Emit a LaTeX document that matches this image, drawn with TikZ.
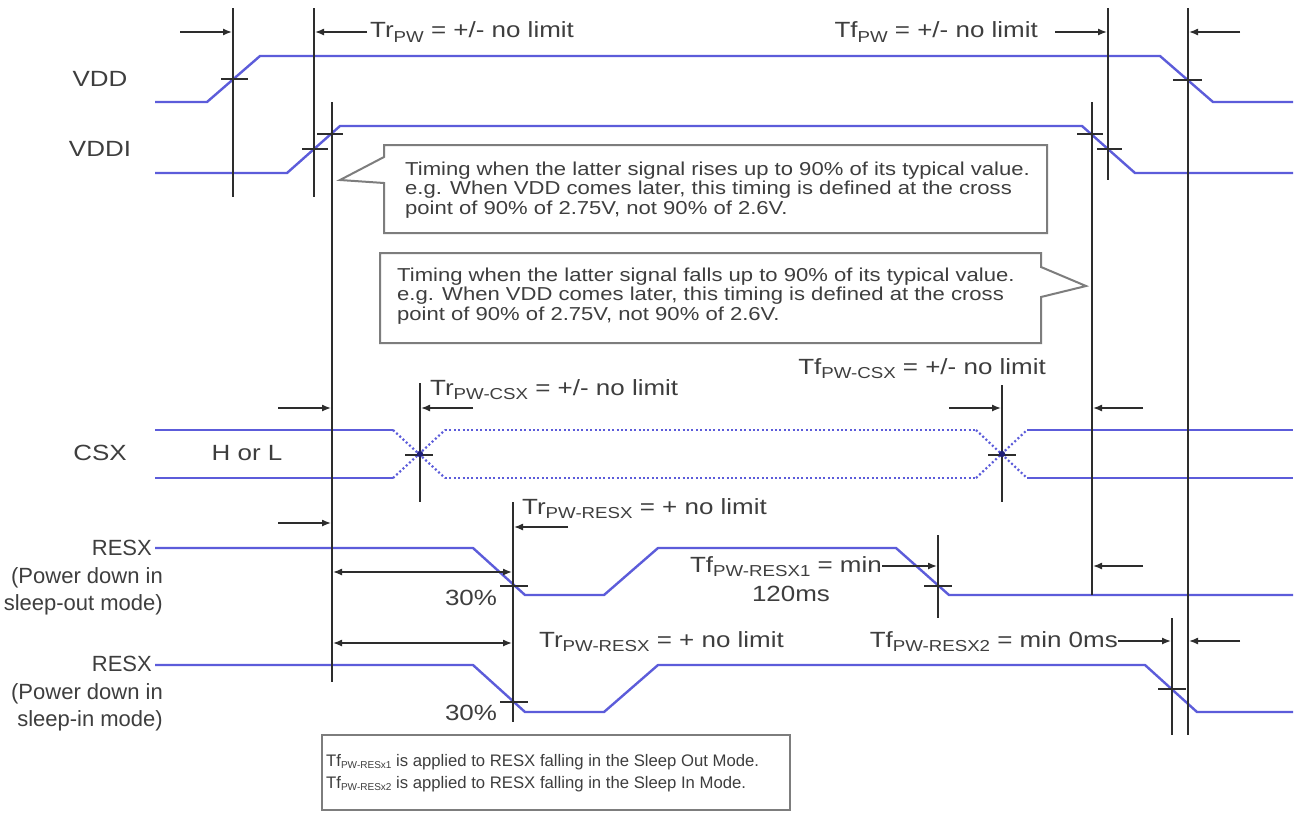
\documentclass[tikz,border=0pt]{standalone}
\usepackage{fontspec}
\setmainfont{Liberation Sans}[FakeStretch=1.18]
\newfontfamily\plainsans{Liberation Sans}
\usetikzlibrary{arrows.meta}
\definecolor{sig}{RGB}{92,92,218}
\definecolor{sigdot}{RGB}{30,30,120}
\definecolor{txt}{RGB}{62,62,62}
\definecolor{ln}{RGB}{45,45,45}
\definecolor{bx}{RGB}{125,125,125}
\newcommand\lsub[1]{\raisebox{-0.35ex}{\scalebox{0.72}{#1}}}
\newcommand\tsub[1]{\raisebox{-0.3ex}{\scalebox{0.6}{#1}}}
\begin{document}
\begin{tikzpicture}[x=1pt,y=-1pt,
  sigl/.style={draw=sig,line width=2.4pt,line join=round},
  sigdots/.style={draw=sig,line width=2.2pt,dash pattern=on 2pt off 2.4pt},
  vline/.style={draw=ln,line width=1.8pt},
  tickl/.style={draw=ln,line width=1.6pt},
  arr/.style={draw=ln,line width=1.4pt,-{Latex[length=9pt,width=7pt]}},
  darr/.style={draw=ln,line width=1.4pt,{Latex[length=9pt,width=7pt]}-{Latex[length=9pt,width=7pt]}},
  lab/.style={text=txt,font=\fontsize{22}{26}\selectfont,inner sep=0pt},
  reslab/.style={text=txt,font=\plainsans\fontsize{22}{27.5}\selectfont,inner sep=0pt,align=right,anchor=east},
  note/.style={text=txt,font=\fontsize{18.7}{19.5}\selectfont,inner sep=0pt,align=left},
  small/.style={text=txt,font=\plainsans\fontsize{16.7}{22}\selectfont,inner sep=0pt,align=left},
  boxl/.style={draw=bx,line width=2pt,line join=miter}]

\fill[white] (0,0) rectangle (1297,812);
\useasboundingbox (0,0) rectangle (1297,812);

% ---------- signal labels
\node[lab] (lvdd) at (100,79) {VDD};
\node[lab] (lvddi) at (100,149) {VDDI};
\node[lab] (lcsx) at (100,453) {CSX};
\node[lab] (lhl) at (247,453) {H or L};
\node[reslab] (lres1) at (163,578) {RESX\hspace*{11pt}\\(Power down in\\sleep-out mode)};
\node[reslab] (lres2) at (163,694) {RESX\hspace*{11pt}\\(Power down in\\sleep-in mode)};

% ---------- signals
\draw[sigl] (155,102)--(207,102)--(260,56)--(1160,56)--(1213,102)--(1293,102);
\draw[sigl] (155,173)--(287,173)--(340,126)--(1082,126)--(1135,173)--(1293,173);
% CSX
\draw[sigl,line width=2pt] (155,430)--(393,430);
\draw[sigl,line width=2pt] (155,478)--(393,478);
\draw[sigdots] (393,430)--(445,478) (393,478)--(445,430);
\draw[sigdots] (445,430)--(976,430) (445,478)--(976,478);
\draw[sigdots] (976,430)--(1027,478) (976,478)--(1027,430);
\draw[sigl,line width=2pt] (1027,430)--(1293,430);
\draw[sigl,line width=2pt] (1027,478)--(1293,478);
% RESX
\draw[sigl] (155,548)--(473,548)--(525,595)--(604,595)--(658,548)--(896,548)--(949,595)--(1293,595);
\draw[sigl] (155,665)--(473,665)--(525,712)--(604,712)--(658,665)--(1145,665)--(1197,712)--(1293,712);

% ---------- vertical reference lines
\draw[vline] (233,8)--(233,197);
\draw[vline] (314,8)--(314,197);
\draw[vline] (332,102)--(332,682);
\draw[vline] (1092,102)--(1092,595);
\draw[vline] (1108,8)--(1108,180);
\draw[vline] (1188,8)--(1188,735);
\draw[vline] (420,383)--(420,502);
\draw[vline] (1002,385)--(1002,502);
\draw[vline] (513,502)--(513,722);
\draw[vline] (938,535)--(938,618);
\draw[vline] (1172,618)--(1172,735);

% ---------- level ticks
\draw[tickl] (221,79)--(248,79);
\draw[tickl] (1173,80)--(1202,80);
\draw[tickl] (302,149)--(328,149);
\draw[tickl] (317,134)--(343,134);
\draw[tickl] (1077,134)--(1103,134);
\draw[tickl] (1097,149)--(1122,149);
\draw[tickl] (405,455)--(433,455);
\draw[tickl] (988,455)--(1016,455);
\draw[tickl] (500,586)--(528,586);
\draw[tickl] (500,702)--(528,702);
\draw[tickl] (924,586)--(952,586);
\draw[tickl] (1158,689)--(1186,689);

\fill[sigdot] (420,454) circle (3.2);
\fill[sigdot] (1002,454) circle (3.2);

% ---------- arrows
\draw[arr] (180,32)--(232,32);
\draw[arr] (367,32)--(315,32);
\draw[arr] (1055,32)--(1107,32);
\draw[arr] (1240,32)--(1189,32);
\draw[arr] (278,408)--(331,408);
\draw[arr] (473,408)--(421,408);
\draw[arr] (949,408)--(1001,408);
\draw[arr] (1143,408)--(1093,408);
\draw[arr] (278,523)--(331,523);
\draw[arr] (568,527)--(514,527);
\draw[darr] (333,572)--(512,572);
\draw[darr] (333,643)--(512,643);
\draw[arr] (882,566)--(937,566);
\draw[arr] (1143,566)--(1093,566);
\draw[arr] (1118,641)--(1171,641);
\draw[arr] (1240,641)--(1189,641);

% ---------- timing texts
\node[lab,anchor=west] (trpw) at (370,32) {Tr\lsub{PW} = +/- no limit};
\node[lab,anchor=east] (tfpw) at (1038,32) {Tf\lsub{PW} = +/- no limit};
\node[lab,anchor=west] (trcsx) at (430,390) {Tr\lsub{PW-CSX} = +/- no limit};
\node[lab,anchor=east] (tfcsx) at (1046,369) {Tf\lsub{PW-CSX} = +/- no limit};
\node[lab,anchor=west] (trres1) at (522,509) {Tr\lsub{PW-RESX} = + no limit};
\node[lab,anchor=west] (trres2) at (539,642) {Tr\lsub{PW-RESX} = + no limit};
\node[lab,anchor=east] (tfres1) at (882,567) {Tf\lsub{PW-RESX1} = min};
\node[lab] (tfres1b) at (791,594) {120ms};
\node[lab,anchor=east] (tfres2) at (1118,642) {Tf\lsub{PW-RESX2} = min 0ms};
\node[lab] (p30a) at (471,598) {30\%};
\node[lab] (p30b) at (471,713) {30\%};

% ---------- callouts
\draw[boxl,fill=white] (384,145)--(1047,145)--(1047,233)--(384,233)--(384,183)--(340,180)--(384,157)--cycle;
\node[note,anchor=west] (n1) at (405,190) {Timing when the latter signal rises up to 90\% of its typical value.\\e.g. When VDD comes later, this timing is defined at the cross\\point of 90\% of 2.75V, not 90\% of 2.6V.};
\draw[boxl,fill=white] (380,253)--(1041,253)--(1041,267)--(1086,286)--(1041,297)--(1041,343)--(380,343)--cycle;
\node[note,anchor=west] (n2) at (397,296) {Timing when the latter signal falls up to 90\% of its typical value.\\e.g. When VDD comes later, this timing is defined at the cross\\point of 90\% of 2.75V, not 90\% of 2.6V.};
\draw[boxl] (322,735) rectangle (790,810);
\node[small,anchor=west] (n3) at (326,773) {Tf\tsub{PW-RESx1} is applied to RESX falling in the Sleep Out Mode.\\Tf\tsub{PW-RESx2} is applied to RESX falling in the Sleep In Mode.};
\end{tikzpicture}
\end{document}
